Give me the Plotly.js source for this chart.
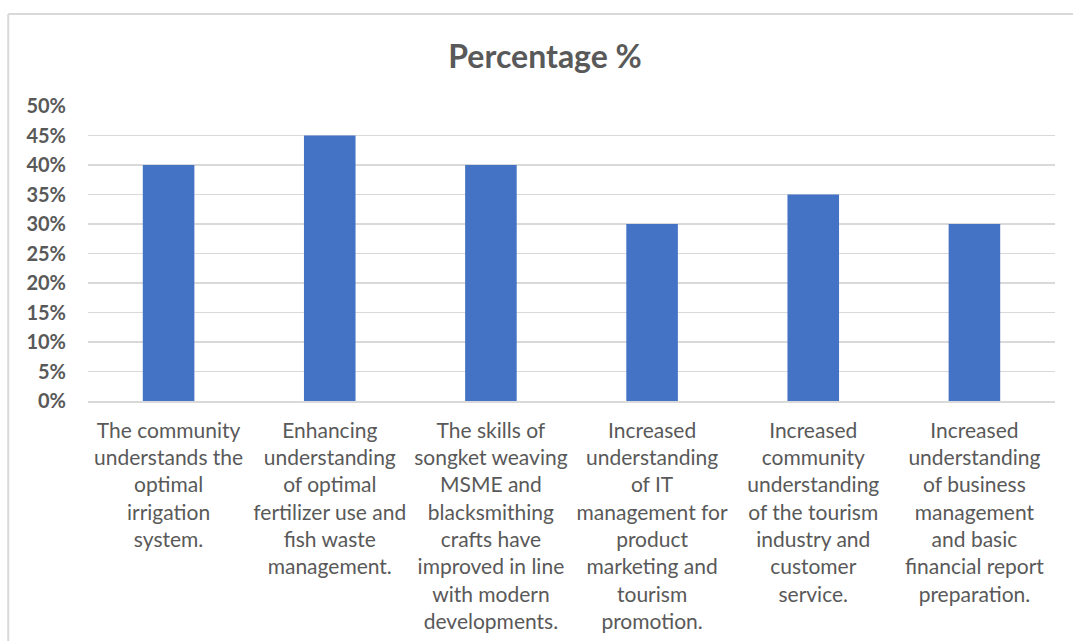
<!DOCTYPE html>
<html>
<head>
<meta charset="utf-8">
<script src="https://cdn.plot.ly/plotly-3.0.1.min.js"></script>
<style>html,body{margin:0;padding:0;background:#fff;}#chart{width:1073px;height:641px;}</style>
</head>
<body>
<div id="chart"></div>
<script>
var categories = [
  "The community<br>understands the<br>optimal<br>irrigation<br>system.",
  "Enhancing<br>understanding<br>of optimal<br>fertilizer use and<br>fish waste<br>management.",
  "The skills of<br>songket weaving<br>MSME and<br>blacksmithing<br>crafts have<br>improved in line<br>with modern<br>developments.",
  "Increased<br>understanding<br>of IT<br>management for<br>product<br>marketing and<br>tourism<br>promotion.",
  "Increased<br>community<br>understanding<br>of the tourism<br>industry and<br>customer<br>service.",
  "Increased<br>understanding<br>of business<br>management<br>and basic<br>financial report<br>preparation."
];
var percentages = [0.40, 0.45, 0.40, 0.30, 0.35, 0.30];
var yTickValues = [0, 0.05, 0.10, 0.15, 0.20, 0.25, 0.30, 0.35, 0.40, 0.45, 0.50];

var trace = {
  type: 'bar',
  x: categories,
  y: percentages,
  marker: {color: '#4472C4'},
  width: 0.32,
  hoverinfo: 'none'
};

var layout = {
  width: 1073,
  height: 641,
  margin: {l: 88, r: 18, t: 106, b: 240},
  paper_bgcolor: '#ffffff',
  plot_bgcolor: '#ffffff',
  showlegend: false,
  title: {
    text: '<b>Percentage %</b>',
    font: {family: 'Lato, "Open Sans", sans-serif', size: 32, color: '#595959'},
    x: 0.508, xanchor: 'center',
    y: 0.912, yanchor: 'middle'
  },
  xaxis: {
    type: 'category',
    tickfont: {family: 'Lato, "Open Sans", sans-serif', size: 21, color: '#595959'},
    showgrid: false,
    showline: true,
    linecolor: '#d9d9d9',
    linewidth: 1.5,
    ticks: '',
    tickangle: 0,
    ticklabelstandoff: 10,
    fixedrange: true
  },
  yaxis: {
    range: [0, 0.5],
    tickvals: yTickValues,
    tickformat: '.0%',
    tickfont: {family: 'Lato, "Open Sans", sans-serif', size: 20, color: '#595959', weight: 'bold'},
    showgrid: true,
    gridcolor: '#d9d9d9',
    gridwidth: 1.5,
    zeroline: false,
    showline: false,
    ticks: '',
    ticklabelstandoff: 21,
    fixedrange: true
  },
  shapes: [
    {type: 'line', xref: 'paper', yref: 'paper', x0: -0.0825, x1: 1.05, y0: 1.3119, y1: 1.3119,
     line: {color: '#d9d9d9', width: 2}},
    {type: 'line', xref: 'paper', yref: 'paper', x0: -0.0825, x1: -0.0825, y0: 1.3119, y1: -1.0,
     line: {color: '#d9d9d9', width: 2}}
  ]
};

Plotly.newPlot('chart', [trace], layout, {displayModeBar: false, staticPlot: true});
</script>
</body>
</html>
